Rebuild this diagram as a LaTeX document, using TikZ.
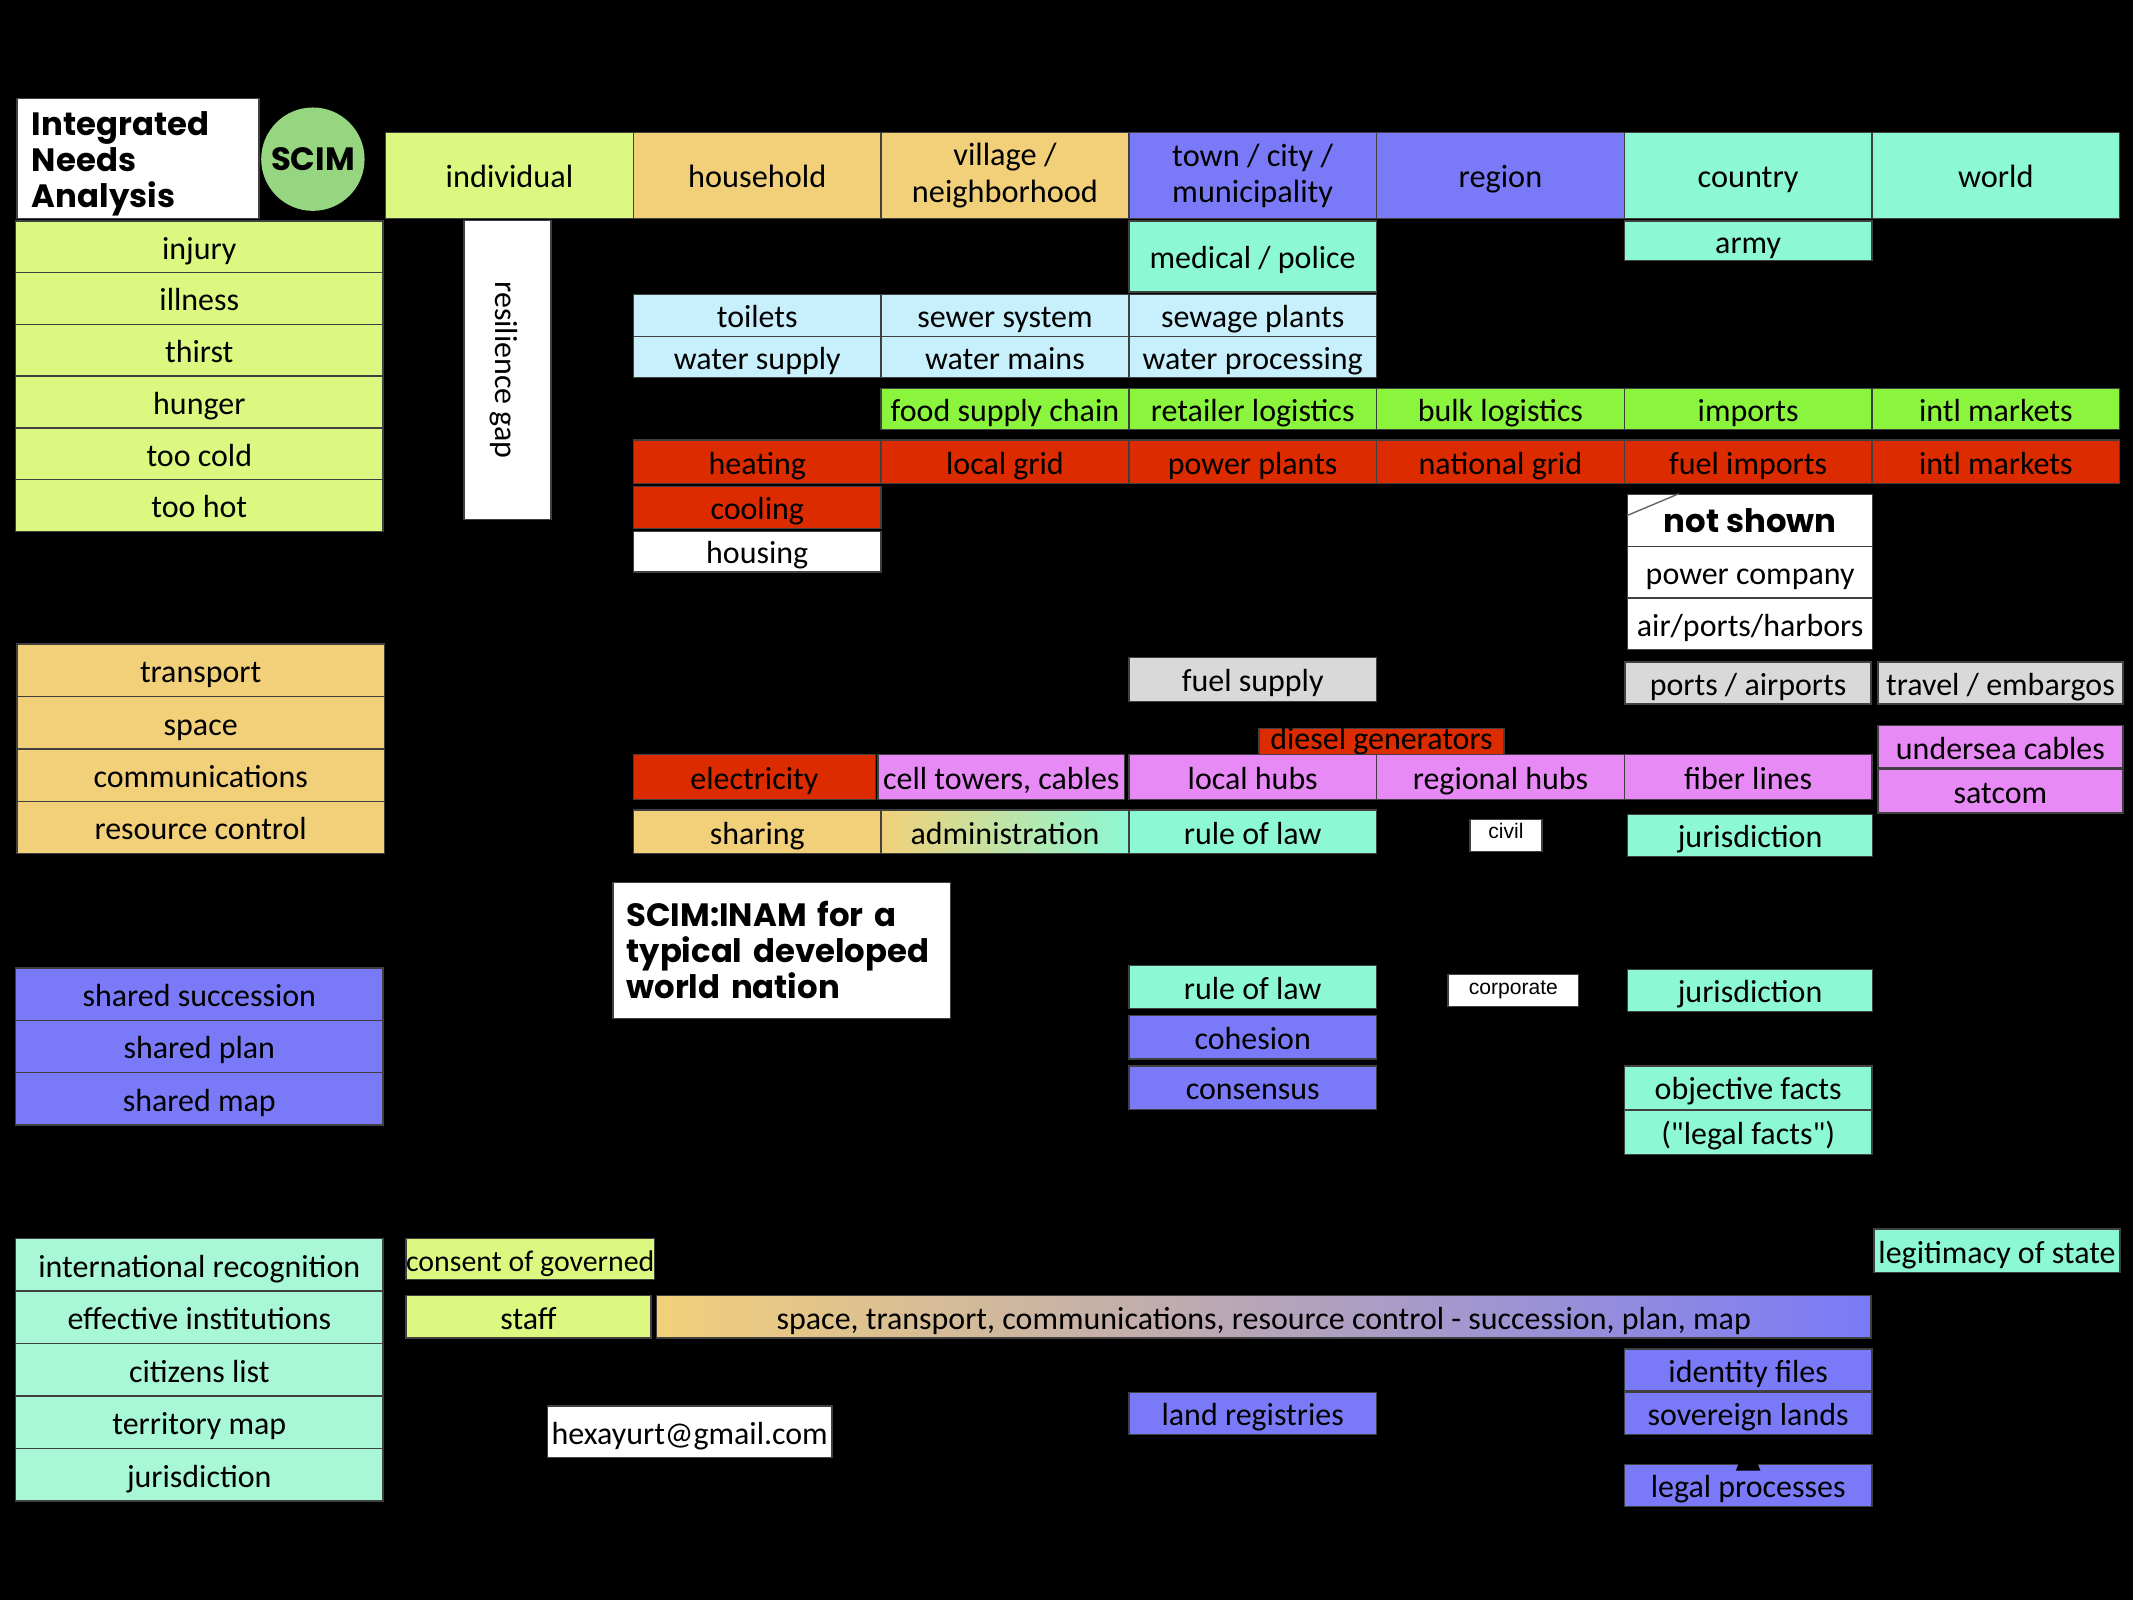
\documentclass[tikz,border=0pt]{standalone}
\usepackage{fontspec}
\setmainfont{Carlito}[Ligatures=TeXOff]
\newfontfamily\helv{Liberation Sans}
\newfontfamily\heavyfont{Poppins}
\usetikzlibrary{positioning}
\definecolor{bg}{RGB}{0,0,0}
\definecolor{need}{RGB}{221,248,128}
\definecolor{sand}{RGB}{242,208,122}
\definecolor{vio}{RGB}{122,122,248}
\definecolor{mint}{RGB}{140,248,212}
\definecolor{mintl}{RGB}{168,247,214}
\definecolor{sky}{RGB}{200,240,252}
\definecolor{leaf}{RGB}{138,245,60}
\definecolor{fire}{RGB}{221,43,0}
\definecolor{mag}{RGB}{232,138,246}
\definecolor{stone}{RGB}{217,217,217}
\definecolor{scim}{RGB}{151,214,128}
\newcommand{\pu}{0.013604cm}
\tikzset{
  every picture/.style={line join=miter},
  % Zellen
  cell/.style={draw=black!75, line width=0.4pt, anchor=north west, inner sep=0pt,
    text=black, align=center, font=\fontsize{9.1}{10}\selectfont,
    text height=0.8em, text depth=0.1em},
  wd/.style={minimum width=#1*\pu},
  ht/.style={minimum height=#1*\pu},
  hdr/.style={font=\fontsize{9.2}{10.3}\selectfont},
  twoline/.style={text height={}, text depth={}},
  heavy/.style={twoline, font=\heavyfont\bfseries\fontsize{9.2}{10.3}\selectfont},
  smalltag/.style={cell, fill=white, font=\helv\fontsize{6}{7}\selectfont,
    text height=0.55em, text depth=0.35em},
}
\begin{document}
\begin{tikzpicture}[x=\pu, y=-\pu]
  \def\xo{283} \def\cw{182.1}
  \fill[bg] (0,0) rectangle (1568,1176);
  % Titel
  \node[cell, fill=white, wd=178, ht=88, heavy, align=left, text width=156*\pu] (title) at (12,72)
    {\rule{0pt}{1.05em}Integrated\\Needs\\Analysis};
  \node[circle, fill=scim, minimum size=76*\pu, inner sep=0pt, heavy] (scim) at (230,117) {SCIM};
  % Kopfzeile: Ebenen
  \foreach \t/\c/\s [count=\i from 0] in {individual/need/{}, household/sand/{},
      {village /\\neighborhood}/sand/twoline, {town / city /\\municipality}/vio/twoline,
      region/vio/{}, country/mint/{}, world/mint/{}}
    \node[cell, hdr, \s, fill=\c, wd=\cw, ht=63] (lvl\i) at ({\xo+\i*\cw},97) {\t};
  % Bedürfnisse links
  \foreach \t [count=\i from 0] in {injury, illness, thirst, hunger, too cold, too hot}
    \node[cell, fill=need, wd=270, ht=38] (need\i) at (11,162+\i*38) {\t};
  \foreach \t [count=\i from 0] in {transport, space, communications, resource control}
    \node[cell, fill=sand, wd=270, ht=38.5] (res\i) at (12,473+\i*38.5) {\t};
  \foreach \t [count=\i from 0] in {shared succession, shared plan, shared map}
    \node[cell, fill=vio, wd=270, ht=38.5] (share\i) at (11,711+\i*38.5) {\t};
  \foreach \t [count=\i from 0] in {international recognition, effective institutions, citizens list,
      territory map, jurisdiction}
    \node[cell, fill=mintl, wd=270, ht=38.6] (state\i) at (11,910+\i*38.6) {\t};
  \node[cell, fill=white, wd=220, ht=64, anchor=center, rotate=-90] (gap) at (373,272) {resilience gap};
  % Sicherheit
  \node[cell, fill=mint, wd=\cw, ht=52] (medic) at ({\xo+3*\cw},162) {medical / police};
  \node[cell, fill=mint, wd=\cw, ht=29] (army) at ({\xo+5*\cw},162) {army};
  % Wasser
  \foreach \t [count=\i from 1] in {toilets, sewer system, sewage plants}
    \node[cell, fill=sky, wd=\cw, ht=31] (sewer\i) at ({\xo+\i*\cw},216) {\t};
  \foreach \t [count=\i from 1] in {water supply, water mains, water processing}
    \node[cell, fill=sky, wd=\cw, ht=30] (water\i) at ({\xo+\i*\cw},247) {\t};
  % Nahrung
  \foreach \t [count=\i from 2] in {food supply chain, retailer logistics, bulk logistics, imports, intl markets}
    \node[cell, fill=leaf, wd=\cw, ht=30] (food\i) at ({\xo+\i*\cw},285) {\t};
  % Energie
  \foreach \t [count=\i from 1] in {heating, local grid, power plants, national grid, fuel imports, intl markets}
    \node[cell, fill=fire, wd=\cw, ht=32] (power\i) at ({\xo+\i*\cw},323) {\t};
  \node[cell, fill=fire, wd=\cw, ht=31] (cool) at ({\xo+\cw},357) {cooling};
  \node[cell, fill=white, wd=\cw, ht=30] (house) at ({\xo+\cw},390) {housing};
  % nicht gezeigt
  \node[cell, fill=white, wd=180, ht=38, heavy] (ns) at (1196,363) {not shown};
  \draw[black!60, line width=0.4pt] ([yshift=-16*\pu]ns.north west) -- ([xshift=38*\pu]ns.north west);
  \node[cell, fill=white, wd=180, ht=38] (company) at (1196,401) {power company};
  \node[cell, fill=white, wd=180, ht=38] (harbors) at (1196,439) {air/ports/harbors};
  % Verkehr
  \node[cell, fill=stone, wd=\cw, ht=32] (fuel) at ({\xo+3*\cw},483) {fuel supply};
  \node[cell, fill=stone, wd=181, ht=31] (ports) at (1194,486) {ports / airports};
  \node[cell, fill=stone, wd=180, ht=31] (travel) at (1380,486) {travel / embargos};
  % Kommunikation
  \node[cell, fill=fire, wd=180, ht=19, text height=0.6em, text depth=0.3em] (diesel) at (925,535)
    {diesel generators};
  \node[cell, fill=fire, wd=178, ht=33] (elec) at (465,554) {electricity};
  \node[cell, fill=mag, wd=181, ht=33] (cell) at (645,554) {cell towers, cables};
  \foreach \t [count=\i from 3] in {local hubs, regional hubs, fiber lines}
    \node[cell, fill=mag, wd=\cw, ht=33] (hub\i) at ({\xo+\i*\cw},554) {\t};
  \node[cell, fill=mag, wd=180, ht=31] (cables) at (1380,533) {undersea cables};
  \node[cell, fill=mag, wd=180, ht=32] (satcom) at (1380,565) {satcom};
  % Verwaltung
  \node[cell, fill=sand, wd=\cw, ht=32] (sharing) at ({\xo+\cw},595) {sharing};
  \node[cell, left color=sand, middle color=sand!75!mint, right color=mint, wd=\cw, ht=32] (admin)
    at ({\xo+2*\cw},595) {administration};
  \node[cell, fill=mint, wd=\cw, ht=32] (law) at ({\xo+3*\cw},595) {rule of law};
  \node[smalltag, wd=53, ht=19] (civil) at (1080,602) {civil};
  \node[cell, fill=mint, wd=180, ht=31] (juris) at (1196,598) {jurisdiction};
  \node[cell, fill=white, wd=248, ht=100, heavy, align=left, text width=228*\pu] (inam) at (450,648)
    {SCIM:INAM for a\\typical developed\\world nation};
  % Recht und Konsens
  \node[cell, fill=mint, wd=\cw, ht=32] (law2) at ({\xo+3*\cw},709) {rule of law};
  \node[smalltag, wd=96, ht=19] (corp) at (1064,716) {corporate};
  \node[cell, fill=mint, wd=180, ht=31] (juris2) at (1196,712) {jurisdiction};
  \node[cell, fill=vio, wd=\cw, ht=32] (cohesion) at ({\xo+3*\cw},746) {cohesion};
  \node[cell, fill=vio, wd=\cw, ht=32] (consensus) at ({\xo+3*\cw},783) {consensus};
  \node[cell, fill=mint, wd=\cw, ht=32] (facts) at ({\xo+5*\cw},783) {objective facts};
  \node[cell, fill=mint, wd=\cw, ht=32] (legal) at ({\xo+5*\cw},816) {("legal facts")};
  % Staat
  \node[cell, fill=need, wd=180, ht=30, font=\fontsize{8.5}{10}\selectfont] (consent) at (298,910)
    {consent of governed};
  \node[cell, fill=need, wd=180, ht=31] (staff) at (298,952) {staff};
  \node[cell, left color=sand, right color=vio, wd=893, ht=31] (bar) at (482,952)
    {space, transport, communications, resource control - succession, plan, map};
  \node[cell, fill=mint, wd=181, ht=32] (legit) at (1377,903) {legitimacy of state};
  \node[cell, fill=vio, wd=\cw, ht=31] (ident) at ({\xo+5*\cw},991) {identity files};
  \node[cell, fill=vio, wd=\cw, ht=31] (lands) at ({\xo+5*\cw},1023) {sovereign lands};
  \node[cell, fill=vio, wd=\cw, ht=31] (registry) at ({\xo+3*\cw},1023) {land registries};
  \node[cell, fill=vio, wd=\cw, ht=31] (process) at ({\xo+5*\cw},1076) {legal processes};
  \fill[black] ([xshift=-7*\pu]process.north) -- ([xshift=7*\pu]process.north)
    -- ([xshift=9*\pu, yshift=-5*\pu]process.north) -- ([xshift=-9*\pu, yshift=-5*\pu]process.north) -- cycle;
  \node[cell, fill=white, wd=209, ht=38] (mail) at (402,1033) {hexayurt@gmail.com};
\end{tikzpicture}
\end{document}
